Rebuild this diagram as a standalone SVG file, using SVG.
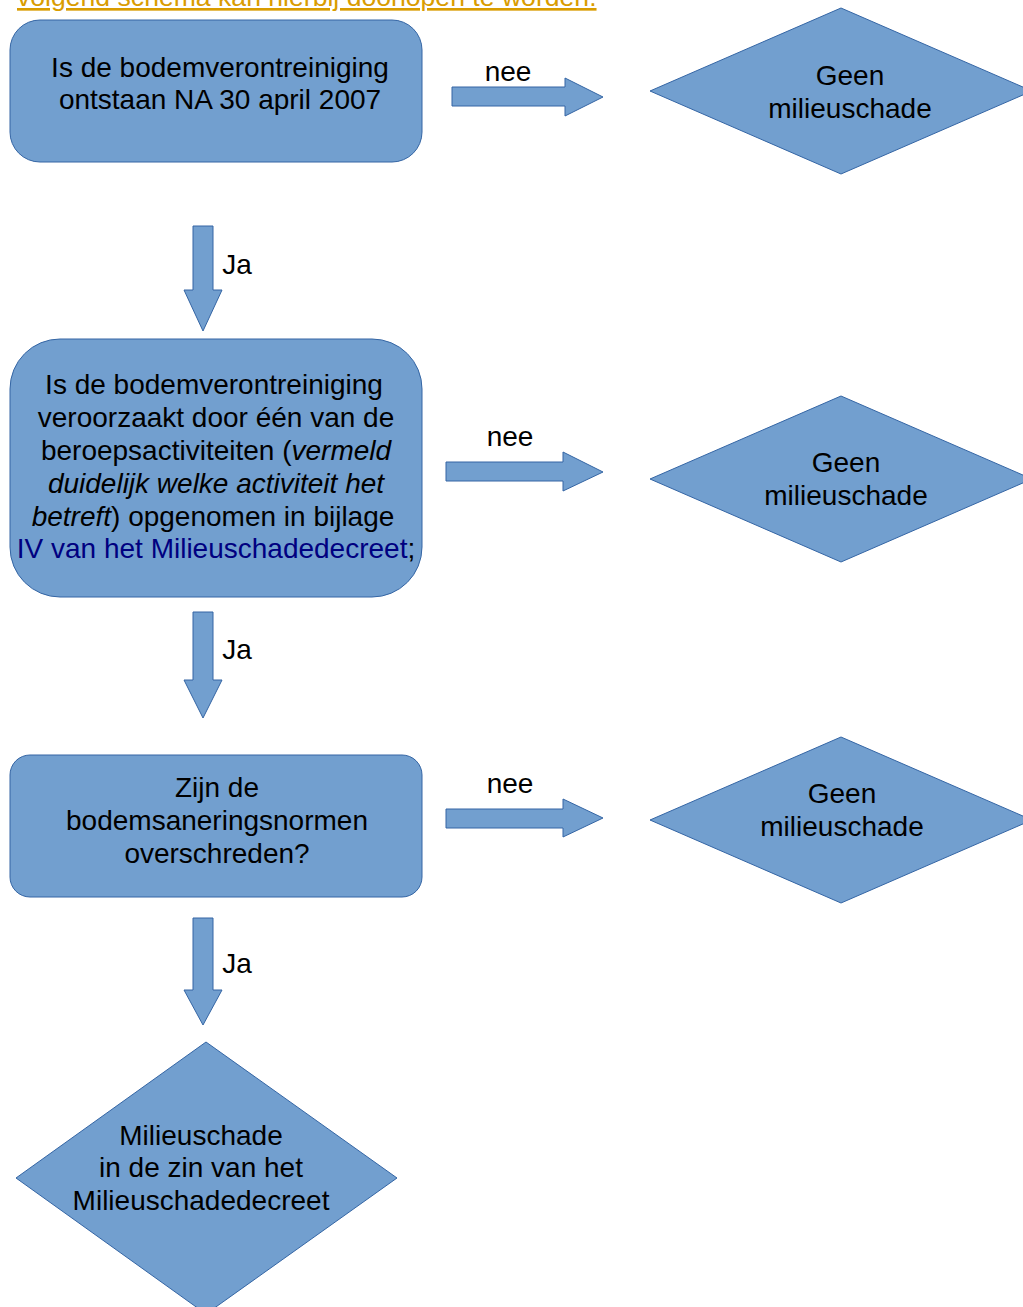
<svg xmlns="http://www.w3.org/2000/svg" width="1023" height="1307" viewBox="0 0 1023 1307">
<style>
.shape{fill:#729fcf;stroke:#3465a4;stroke-width:1}
.t{font-family:"Liberation Sans",Arial,sans-serif;font-size:28px;fill:#000;text-anchor:middle}
.hdr{font-family:"Liberation Sans",Arial,sans-serif;font-size:26.6px;fill:#d99c00;text-decoration:underline}
</style>
<rect width="1023" height="1307" fill="#fff"/>
<text class="hdr" x="17" y="6">volgend schema kan hierbij doorlopen te worden.</text>
<g id="connectors">
  <g id="nee1"><polygon class="shape" points="452,87 565,87 565,78 603,97 565,116 565,106 452,106"/><text class="t" x="508" y="81">nee</text></g>
  <g id="ja1"><polygon class="shape" points="193,226 213,226 213,290 222,290 203,331 184,290 193,290"/><text class="t" x="237" y="274">Ja</text></g>
  <g id="nee2"><polygon class="shape" points="446,462 563,462 563,452 603,472 563,491 563,481 446,481"/><text class="t" x="510" y="446">nee</text></g>
  <g id="ja2"><polygon class="shape" points="193,612 213,612 213,680 222,680 203,718 184,680 193,680"/><text class="t" x="237" y="659">Ja</text></g>
  <g id="nee3"><polygon class="shape" points="446,809 563,809 563,799 603,818 563,837 563,828 446,828"/><text class="t" x="510" y="793">nee</text></g>
  <g id="ja3"><polygon class="shape" points="193,918 213,918 213,990 222,990 203,1025 184,990 193,990"/><text class="t" x="237" y="973">Ja</text></g>
</g>
<g id="box1">
  <rect class="shape" x="10" y="20" width="412" height="142" rx="30"/>
  <text class="t" x="220" y="77">Is de bodemverontreiniging</text>
  <text class="t" x="220" y="109">ontstaan NA 30 april 2007</text>
</g>
<g id="geen1">
  <polygon class="shape" points="650,91 841,8 1032,91 841,174"/>
  <text class="t" x="850" y="85">Geen</text>
  <text class="t" x="850" y="118">milieuschade</text>
</g>
<g id="box2">
  <rect class="shape" x="10" y="339" width="412" height="258" rx="50"/>
  <text class="t" x="214" y="394">Is de bodemverontreiniging</text>
  <text class="t" x="216" y="427">veroorzaakt door één van de</text>
  <text class="t" x="216" y="460">beroepsactiviteiten (<tspan font-style="italic">vermeld</tspan></text>
  <text class="t" x="216" y="493" font-style="italic">duidelijk welke activiteit het</text>
  <text class="t" x="213" y="526"><tspan font-style="italic">betreft</tspan>) opgenomen in bijlage</text>
  <text class="t" x="216" y="558"><tspan fill="#000080">IV van het Milieuschadedecreet</tspan>;</text>
</g>
<g id="geen2">
  <polygon class="shape" points="650,479 841,396 1032,479 841,562"/>
  <text class="t" x="846" y="472">Geen</text>
  <text class="t" x="846" y="505">milieuschade</text>
</g>
<g id="box3">
  <rect class="shape" x="10" y="755" width="412" height="142" rx="20"/>
  <text class="t" x="217" y="797">Zijn de</text>
  <text class="t" x="217" y="830">bodemsaneringsnormen</text>
  <text class="t" x="217" y="863">overschreden?</text>
</g>
<g id="geen3">
  <polygon class="shape" points="650,820 841,737 1032,820 841,903"/>
  <text class="t" x="842" y="803">Geen</text>
  <text class="t" x="842" y="836">milieuschade</text>
</g>
<g id="milieuschade">
  <polygon class="shape" points="16,1178 206,1042 397,1178 206,1314"/>
  <text class="t" x="201" y="1145">Milieuschade</text>
  <text class="t" x="201" y="1177">in de zin van het</text>
  <text class="t" x="201" y="1210">Milieuschadedecreet</text>
</g>
</svg>
